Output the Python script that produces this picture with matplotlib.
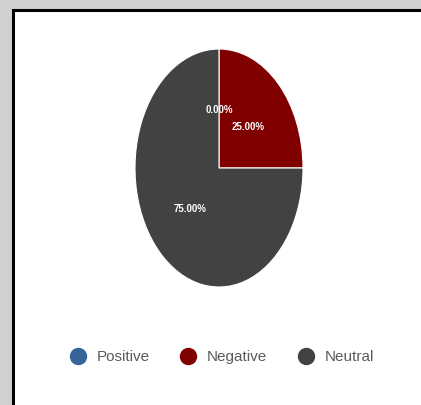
import matplotlib.pyplot as plt
from matplotlib.lines import Line2D
from matplotlib.patches import Rectangle

labels = ["Positive", "Negative", "Neutral"]
shares = [0.0, 25.0, 75.0]
colors = ["#36649a", "#800000", "#424242"]

fig = plt.figure(figsize=(4.21, 4.05), dpi=100)
fig.patch.set_facecolor("#d0d0d0")

# white panel with black frame, running off the right and bottom edges
fig.patches.append(Rectangle((12.5 / 421, -0.1), 1.2, 1 - 10 / 405 + 0.1,
                             transform=fig.transFigure, facecolor="white",
                             edgecolor="black", linewidth=2.2, zorder=-5))

ax = fig.add_axes([0, 0, 1, 1])
ax.patch.set_alpha(0)
wedges, _, autotexts = ax.pie(
    shares, colors=colors, startangle=90, counterclock=False,
    autopct="%.2f%%", pctdistance=0.49,
    wedgeprops=dict(edgecolor="white", linewidth=0.8),
    textprops=dict(color="white", fontsize=7, fontweight="bold",
                   family="Liberation Sans"),
)
ax.set_aspect("auto")
# pie centre at (219, 168) px, radii 84 x 119 px
ax.set_xlim(-219 / 84, (421 - 219) / 84)
ax.set_ylim(-(405 - 168) / 119, 168 / 119)
ax.axis("off")

handles = [Line2D([], [], marker="o", linestyle="none", markersize=11.5,
                  markerfacecolor=c, markeredgecolor=c) for c in colors]
leg = ax.legend(handles, labels, loc="center", ncol=3, frameon=False,
                bbox_to_anchor=(222 / 421, 1 - 357 / 405),
                bbox_transform=fig.transFigure,
                prop=dict(family="Liberation Sans", size=11),
                handlelength=1.0, handletextpad=0.7, columnspacing=2.05)
for t in leg.get_texts():
    t.set_color("#5a5a5a")

fig.savefig("out.png", dpi=100, facecolor=fig.get_facecolor())
